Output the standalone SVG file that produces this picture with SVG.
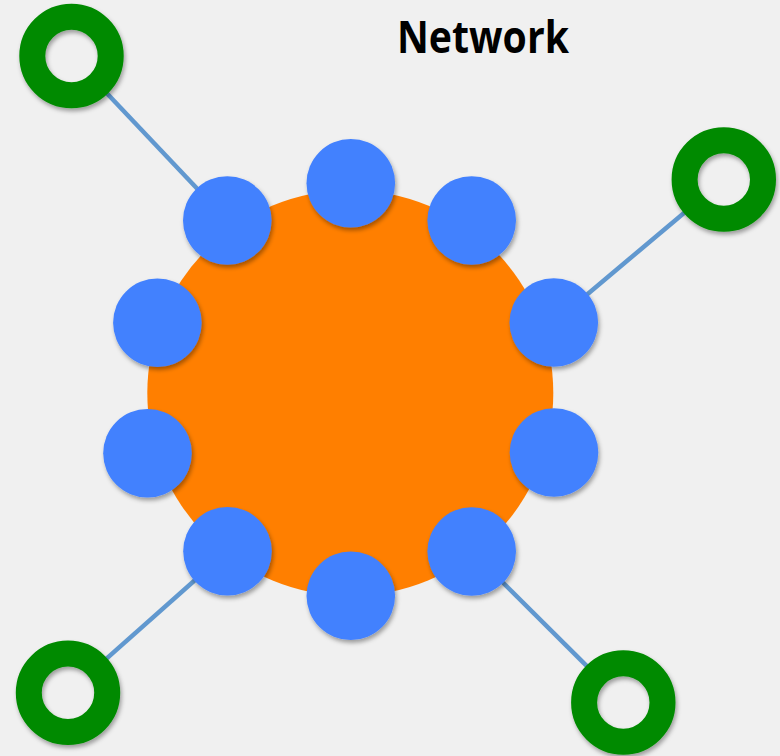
<svg xmlns="http://www.w3.org/2000/svg" width="780" height="756" viewBox="0 0 780 756">
  <defs>
    <filter id="shadow" x="-20%" y="-20%" width="150%" height="150%">
      <feDropShadow dx="1.5" dy="3" stdDeviation="2" flood-color="#000" flood-opacity="0.35"/>
    </filter>
    <style>
      .link { stroke: #6198cf; stroke-width: 4.5; fill: none; }
      .hub { fill: #ff7f00; }
      .port { fill: #4381fe; filter: url(#shadow); }
      .host { fill: none; stroke: #008a00; stroke-width: 26; filter: url(#shadow); }
      .title { font-family: "Open Sans", "Liberation Sans", sans-serif; font-weight: bold; font-size: 44px; fill: #000; }
    </style>
  </defs>

  <rect width="780" height="756" fill="#f0f0f0"/>

  <text class="title" x="397" y="53" textLength="172" lengthAdjust="spacingAndGlyphs">Network</text>

  <!-- links from host ring edges to switch ports -->
  <g id="connectors">
    <line class="link" x1="105.9" y1="92.3" x2="227.3" y2="220.5"/>
    <line class="link" x1="685.5" y1="211.7" x2="553.8" y2="322.5"/>
    <line class="link" x1="105.4" y1="659.6" x2="227.5" y2="551.2"/>
    <line class="link" x1="587.9" y1="667.2" x2="471.7" y2="551.5"/>
  </g>

  <!-- central switch -->
  <g id="switch">
    <circle class="hub" cx="350.3" cy="393" r="203"/>
  </g>

  <!-- ports around the switch -->
  <g id="port-top"><circle class="port" cx="350.8" cy="183.3" r="44.3"/></g>
  <g id="port-top-right"><circle class="port" cx="471.7" cy="220.5" r="44.3"/></g>
  <g id="port-right-upper"><circle class="port" cx="553.8" cy="322.5" r="44.3"/></g>
  <g id="port-right-lower"><circle class="port" cx="554" cy="452.5" r="44.3"/></g>
  <g id="port-bottom-right"><circle class="port" cx="471.7" cy="551.5" r="44.3"/></g>
  <g id="port-bottom"><circle class="port" cx="350.8" cy="595.7" r="44.3"/></g>
  <g id="port-bottom-left"><circle class="port" cx="227.5" cy="551.2" r="44.3"/></g>
  <g id="port-left-lower"><circle class="port" cx="147.5" cy="453.2" r="44.3"/></g>
  <g id="port-left-upper"><circle class="port" cx="157.4" cy="322.8" r="44.3"/></g>
  <g id="port-top-left"><circle class="port" cx="227.3" cy="220.5" r="44.3"/></g>

  <!-- hosts -->
  <g id="host-top-left"><circle class="host" cx="71.5" cy="56" r="39.2"/></g>
  <g id="host-top-right"><circle class="host" cx="723.8" cy="179.5" r="39.2"/></g>
  <g id="host-bottom-left"><circle class="host" cx="68" cy="692.8" r="39.2"/></g>
  <g id="host-bottom-right"><circle class="host" cx="623.3" cy="702.5" r="39.2"/></g>
</svg>
